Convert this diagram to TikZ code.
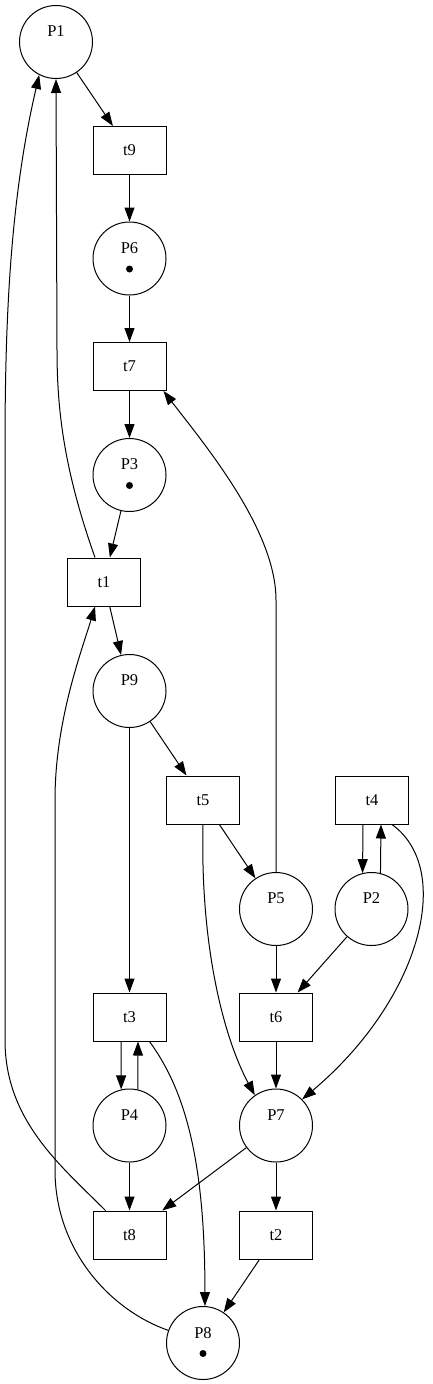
\documentclass[tikz,border=0pt]{standalone}
\usepackage{fontspec}
\setmainfont{Liberation Serif}
\usetikzlibrary{arrows.meta}

\begin{document}
\begin{tikzpicture}[x=1pt, y=-1pt, >={Triangle[length=14pt,width=10pt]}, line width=1pt,
  every node/.style={font=\fontsize{16.5}{21}\selectfont},
  place/.style={circle, draw, minimum size=73pt, inner sep=0pt, align=center},
  transition/.style={rectangle, draw, minimum width=73pt, minimum height=48pt, inner sep=0pt},
  token/.style={fill=black}]
  \useasboundingbox (0,0) rectangle (433,1384);

  % Places
  \node[place] (P1) at (56,42) {P1\\\mbox{}};
  \node[place] (P6) at (129.5,258.5) {P6\\\mbox{}};
  \node[place] (P3) at (129.5,475) {P3\\\mbox{}};
  \node[place] (P9) at (129.5,691) {P9\\\mbox{}};
  \node[place] (P5) at (276,909) {P5\\\mbox{}};
  \node[place] (P2) at (371.5,909) {P2\\\mbox{}};
  \node[place] (P4) at (129.5,1125.5) {P4\\\mbox{}};
  \node[place] (P7) at (276,1125.5) {P7\\\mbox{}};
  \node[place] (P8) at (203,1343) {P8\\\mbox{}};

  % Tokens
  \fill[token] ([yshift=-10.5pt]P6.center) circle (3.5pt);
  \fill[token] ([yshift=-10.5pt]P3.center) circle (3.5pt);
  \fill[token] ([yshift=-10.5pt]P8.center) circle (3.5pt);

  % Transitions
  \node[transition] (t9) at (129.5,150.5) {t9};
  \node[transition] (t7) at (129.5,366.5) {t7};
  \node[transition] (t1) at (104,582) {t1};
  \node[transition] (t5) at (203,800) {t5};
  \node[transition] (t4) at (372,800) {t4};
  \node[transition] (t3) at (129.5,1017) {t3};
  \node[transition] (t6) at (276,1017) {t6};
  \node[transition] (t8) at (129.5,1235) {t8};
  \node[transition] (t2) at (276,1235) {t2};

  % Straight arcs
  \draw[->] (P1) -- (t9);
  \draw[->] (t9) -- (P6);
  \draw[->] (P6) -- (t7);
  \draw[->] (t7) -- (P3);
  \draw[->] (P3) -- (t1);
  \draw[->] (t1) -- (P9);
  \draw[->] (P9) -- (t5);
  \draw[->] (P9) -- (t3);
  \draw[->] (t5) -- (P5);
  \draw[->] (P5) -- (t6);
  \draw[->] (P2) -- (t6);
  \draw[->] (t6) -- (P7);
  \draw[->] (P4) -- (t8);
  \draw[->] (P7) -- (t8);
  \draw[->] (P7) -- (t2);
  \draw[->] (t2) -- (P8);

  % Self loops between a place and its transition
  \draw[->] ([xshift=-9pt]t4.south) -- (P2.104);
  \draw[->] (P2.76) -- ([xshift=9pt]t4.south);
  \draw[->] ([xshift=-8.5pt]t3.south) -- (P4.103);
  \draw[->] (P4.77) -- ([xshift=8.5pt]t3.south);

  % Curved arcs
  \draw[->] ([xshift=-9pt]t1.north) .. controls (64,470) and (57,410) .. (57,350) -- (P1.south);
  \draw[->] ([xshift=-24pt]t8.north) .. controls (60,1165) and (5,1120) .. (5,1040)
    -- (5,450) .. controls (5,320) and (10,200) .. (P1.243);
  \draw[->] (P8.160) .. controls (110,1310) and (55,1250) .. (55,1170)
    -- (55,800) .. controls (55,720) and (82,650) .. ([xshift=-9pt]t1.south);
  \draw[->] (t5.south) .. controls (200,950) and (225,1040) .. (P7.125);
  \draw[->] (P5.north) -- (276,600) .. controls (276,530) and (205,445) .. ([xshift=-3pt]t7.south east);
  \draw[->] ([xshift=20pt]t4.south) .. controls (455,870) and (420,1000) .. (P7.45);
  \draw[->] ([xshift=20pt]t3.south) .. controls (185,1090) and (205,1160) .. (P8.87);

\end{tikzpicture}
\end{document}
